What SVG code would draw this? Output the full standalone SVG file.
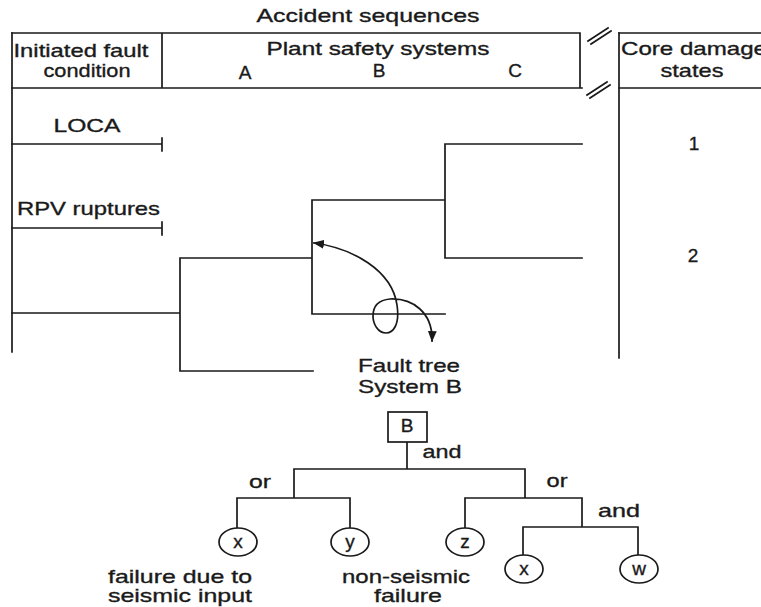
<svg xmlns="http://www.w3.org/2000/svg" width="761" height="607" viewBox="0 0 761 607">
<defs>
<style>
.ln{fill:none;stroke:#1a1a1a;stroke-width:1.7;stroke-linecap:square}
.nd{fill:#fff;stroke:#1a1a1a;stroke-width:1.7}
text{font-family:"Liberation Sans",Arial,sans-serif;font-size:19px;fill:#1a1a1a;stroke:#1a1a1a;stroke-width:0.35}
.m{text-anchor:middle}
</style>
<marker id="ah" viewBox="0 0 10 10" refX="9" refY="5" markerWidth="11" markerHeight="11" orient="auto-start-reverse" markerUnits="userSpaceOnUse">
<path d="M0,1 L10,5 L0,9 Z" fill="#1a1a1a"/>
</marker>
</defs>
<rect width="761" height="607" fill="#fff"/>

<g id="header">
<text class="m" x="368" y="22" font-size="18" textLength="223" lengthAdjust="spacingAndGlyphs">Accident sequences</text>
<path class="ln" d="M12,33 H580 M619,33 H761 M12,88 H582 M619,88 H761 M162,33 V88 M580,33 V88"/>
<path class="ln" stroke-width="1.2" d="M588,41 L608,28 M591,44 L611,31 M587,95 L607,82 M590,98 L610,85"/>
<text class="m" x="81" y="57" textLength="135" lengthAdjust="spacingAndGlyphs">Initiated fault</text>
<text class="m" x="87" y="77" textLength="87" lengthAdjust="spacingAndGlyphs">condition</text>
<text class="m" x="378" y="55" textLength="223" lengthAdjust="spacingAndGlyphs">Plant safety systems</text>
<text class="m" x="245" y="79">A</text>
<text class="m" x="379" y="77">B</text>
<text class="m" x="515" y="77">C</text>
<text x="621" y="55" textLength="146" lengthAdjust="spacingAndGlyphs">Core damage</text>
<text class="m" x="692" y="77" textLength="63" lengthAdjust="spacingAndGlyphs">states</text>
</g>

<g id="event-tree">
<path class="ln" d="M12,33 V352 M619,33 V358"/>
<g id="loca">
<text class="m" x="87" y="132" textLength="67" lengthAdjust="spacingAndGlyphs">LOCA</text>
<path class="ln" d="M12,144 H162 M162,138 V151"/>
</g>
<g id="rpv">
<text x="17" y="215" textLength="143" lengthAdjust="spacingAndGlyphs">RPV ruptures</text>
<path class="ln" d="M12,228 H162 M162,222 V235"/>
</g>
<g id="branches">
<path class="ln" d="M12,313 H180 M180,258 V371 M180,371 H313 M180,258 H312 M312,200 V314 M312,200 H445 M312,314 H445 M445,144 V258 M445,144 H582 M445,258 H582"/>
</g>
<g id="state-1"><text class="m" x="694" y="150" font-size="17">1</text></g>
<g id="state-2"><text class="m" x="693" y="262" font-size="17">2</text></g>
</g>

<g id="link">
<path class="ln" stroke-width="1.5" marker-start="url(#ah)" marker-end="url(#ah)" d="M314,243 C352,248 392,270 397,305 C400,325 393,333 386,333 C378,333 373,324 373,316 C373,306 379,300 390,299 C412,298 433,312 432,341"/>
</g>

<g id="fault-tree-title">
<text class="m" x="409" y="372" textLength="102" lengthAdjust="spacingAndGlyphs">Fault tree</text>
<text class="m" x="410" y="393" textLength="104" lengthAdjust="spacingAndGlyphs">System B</text>
</g>

<g id="connectors">
<path class="ln" d="M407,442 V469 M294,469 H525 M294,469 V498 M237,498 H350 M237,498 V528 M350,498 V528 M525,469 V498 M465,498 H582 M465,498 V528 M582,498 V527 M523,527 H638 M523,527 V556 M638,527 V555"/>
</g>

<g id="node-B">
<rect class="nd" x="388" y="412" width="39" height="30"/>
<text class="m" x="407" y="432">B</text>
</g>
<g id="gate-and-top"><text class="m" x="442" y="458" textLength="39" lengthAdjust="spacingAndGlyphs">and</text></g>
<g id="gate-or-left"><text class="m" x="260" y="488" textLength="22" lengthAdjust="spacingAndGlyphs">or</text></g>
<g id="gate-or-right"><text class="m" x="557" y="487" textLength="21" lengthAdjust="spacingAndGlyphs">or</text></g>
<g id="gate-and-right"><text class="m" x="619" y="517" textLength="42" lengthAdjust="spacingAndGlyphs">and</text></g>

<g id="node-x1">
<ellipse class="nd" cx="238" cy="542" rx="19" ry="14"/>
<text class="m" x="238" y="548">x</text>
</g>
<g id="node-y">
<ellipse class="nd" cx="350" cy="542" rx="19" ry="14"/>
<text class="m" x="350" y="548">y</text>
</g>
<g id="node-z">
<ellipse class="nd" cx="465" cy="542" rx="19" ry="14"/>
<text class="m" x="465" y="548">z</text>
</g>
<g id="node-x2">
<ellipse class="nd" cx="524" cy="569" rx="19" ry="14"/>
<text class="m" x="524" y="575">x</text>
</g>
<g id="node-w">
<ellipse class="nd" cx="639" cy="569" rx="19" ry="14"/>
<text class="m" x="639" y="575">w</text>
</g>

<g id="captions">
<text class="m" x="180" y="583" textLength="144" lengthAdjust="spacingAndGlyphs">failure due to</text>
<text class="m" x="180" y="602" textLength="144" lengthAdjust="spacingAndGlyphs">seismic input</text>
<text class="m" x="406" y="583" textLength="128" lengthAdjust="spacingAndGlyphs">non-seismic</text>
<text class="m" x="408" y="602" textLength="68" lengthAdjust="spacingAndGlyphs">failure</text>
</g>
</svg>
